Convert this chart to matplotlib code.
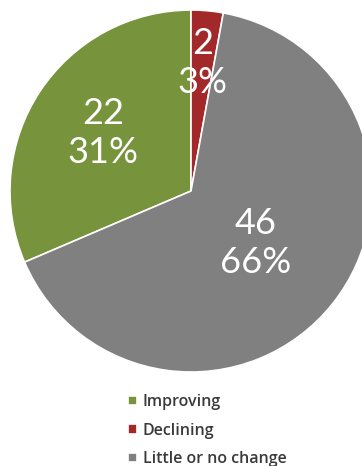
import matplotlib
matplotlib.use("Agg")
import matplotlib.pyplot as plt
import numpy as np

# pie data
labels = ["Improving", "Declining", "Little or no change"]
counts = [22, 2, 46]
colors = ["#77933C", "#A3282A", "#808080"]

plt.rcParams["font.family"] = ["Lato", "DejaVu Sans"]

fig = plt.figure(figsize=(3.62, 4.66), dpi=100)
ax = fig.add_axes([10 / 362, 0.2017, 362 / 362, 362 / 466])

total = sum(counts)
start = 90 + counts[0] / total * 360

wedges, texts, autotexts = ax.pie(
    counts, colors=colors, startangle=start, counterclock=False,
    radius=1.0, wedgeprops=dict(edgecolor="white", linewidth=1.2),
    autopct=lambda p: "%d\n%d%%" % (round(p * total / 100), round(p)),
    textprops=dict(color="white", fontsize=26),
)

# Excel-like "best fit" label radii
label_r = [0.58, 0.71, 0.46]
for w, t, r in zip(wedges, autotexts, label_r):
    mid = np.deg2rad((w.theta1 + w.theta2) / 2)
    t.set_position((r * np.cos(mid), r * np.sin(mid)))
    t.set_linespacing(1.2)
    t.set_ha("center")
    t.set_va("center")

ax.set_xlim(-1, 1)
ax.set_ylim(-1, 1)
ax.set_aspect("equal")
ax.axis("off")

fig.legend(wedges, labels, loc="upper left", bbox_to_anchor=(117 / 362, 1 - 383 / 466),
           frameon=False, handlelength=0.55, handleheight=0.55,
           handletextpad=0.35, labelspacing=0.78, borderpad=0.2,
           prop=dict(family=["Open Sans", "DejaVu Sans"], size=11.5, weight="semibold"),
           labelcolor="#3A3A3A")

fig.savefig("out.png", dpi=100)
